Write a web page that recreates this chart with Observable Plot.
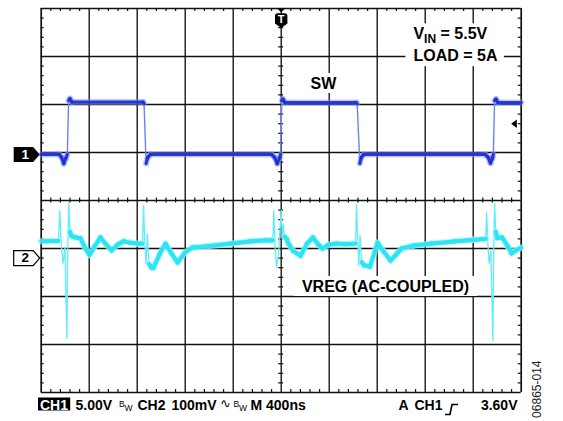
<!DOCTYPE html>
<html><head><meta charset="utf-8">
<script src="https://cdn.jsdelivr.net/npm/d3@7"></script>
<script src="https://cdn.jsdelivr.net/npm/@observablehq/plot@0.6"></script>
<style>
html,body{margin:0;padding:0;background:#fff;}
#chart{width:563px;height:421px;}
</style></head><body><div id="chart"></div>
<script>
// ---------- data ----------
// time in ns relative to trigger, 400 ns/div
const ch1Time = [-2000,-1850,-1830,-1812,-1795,-1782,-1772,-1760,-1745,-1152,-1143,-1126,-1112,-1090,-80,-55,-33,-15,-5,5,15,30,625,633,655,668,688,1700,1725,1744,1760,1768,1778,1790,1805,2000];
// SW node voltage in V, 5 V/div
const ch1Volt = [0,0,-0.3,-0.95,-0.4,0,5.6,5.8,5.45,5.45,5.3,-0.95,-0.3,0,0,-0.3,-0.95,-0.4,0,5.6,5.75,5.4,5.4,5.3,-0.95,-0.3,0,0,-0.3,-0.9,-0.4,0,5.6,5.75,5.4,5.4];
// VREG AC-coupled ripple in mV, 100 mV/div
const ch2Time = [-2000,-1856,-1845,-1834,-1818,-1802,-1786,-1778,-1770,-1760,-1748,-1714,-1673,-1631,-1597,-1556,-1506,-1464,-1414,-1364,-1314,-1256,-1189,-1156,-1147,-1138,-1126,-1115,-1102,-1080,-1064,-1010,-964,-915,-864,-800,-739,-600,-423,-256,-131,-81,-70,-62,-52,-39,-22,0,8,16,28,45,61,100,161,215,265,310,345,395,460,540,620,628,637,647,657,670,690,740,803,850,911,960,1003,1100,1250,1450,1600,1704,1712,1722,1733,1748,1764,1772,1778,1788,1800,1840,1885,1920,1955,2000];
const ch2mV = [35,36,99,32,-11,22,-167,30,114,55,46,43,41,20,7,24,43,30,16,28,35,32,30,30,110,40,-11,50,-12,-20,-20,10,30,10,-9,12,22,25,30,35,37,37,37,99,30,-20,10,100,40,70,45,40,30,15,5,30,43,28,20,28,30,29,30,112,40,-16,48,-8,-15,-18,32,15,-5,8,20,26,30,35,38,40,95,30,-11,15,-172,30,114,55,42,43,26,10,16,22];

const nsPerDiv = 400, ch1VoltsPerDiv = 5, ch2mVPerDiv = 100;
const ch1OffsetDiv = 0.96, ch2OffsetDiv = -1.2, trigMarkerDiv = 1.6;
const timeDomain = [-2000, 2000], divDomain = [-4, 4];

const labelSW = "SW";
const labelVin = "VIN = 5.5V";
const labelLoad = "LOAD = 5A";
const labelVreg = "VREG (AC-COUPLED)";
const ch1Marker = "1", ch2Marker = "2", trigMarker = "T";
const bottomTexts = ["CH1","5.00V","CH2","100mV","M 400ns","A","CH1","3.60V"];
const bwText = ["B","W"];
const acText = "\u223F";
const figId = "06865-014";

// ---------- derived ----------
const ch1 = ch1Time.map((t,i)=>({t, v: ch1OffsetDiv + ch1Volt[i]/ch1VoltsPerDiv, raw: ch1Volt[i]}));
const ch2 = ch2Time.map((t,i)=>({t, v: ch2OffsetDiv + ch2mV[i]/ch2mVPerDiv, raw: ch2mV[i]}));
const ch1Thick = d3.pairs(ch1).filter(([a,b]) => Math.abs(b.raw-a.raw) < 2);
const ch2Thick = d3.pairs(ch2).filter(([a,b]) => Math.abs(b.raw-a.raw)/(b.t-a.t) < 1.6);

const pxPerDiv = 48;
const nsPerPx = nsPerDiv/pxPerDiv, divPerPx = 1/pxPerDiv;
const majorX = d3.range(timeDomain[0], timeDomain[1]+1, nsPerDiv);
const majorY = d3.range(divDomain[0], divDomain[1]+1, 1);
const minorX = d3.range(timeDomain[0], timeDomain[1]+1, nsPerDiv/5).filter(v => v % nsPerDiv !== 0);
const minorY = d3.range(-20, 21).filter(k => k % 5 !== 0).map(k => k/5);

// custom symbols
const pentRight = {draw(c){c.moveTo(-13.5,-7.5);c.lineTo(6,-7.5);c.lineTo(12.5,0);c.lineTo(6,7.5);c.lineTo(-13.5,7.5);c.closePath();}};
const shieldT = {draw(c){
  c.moveTo(-6.2,-4);c.quadraticCurveTo(-6.2,-6.8,-3.4,-6.8);c.lineTo(3.4,-6.8);c.quadraticCurveTo(6.2,-6.8,6.2,-4);
  c.lineTo(6.2,3.5);c.lineTo(0,8);c.lineTo(-6.2,3.5);c.closePath();
  c.moveTo(-3.6,-11.2);c.lineTo(3.6,-11.2);c.lineTo(0,-7.6);c.closePath();
}};
const triLeft = {draw(c){c.moveTo(-3,0);c.lineTo(2.6,-4.2);c.lineTo(2.6,4.2);c.closePath();}};
const riseEdge = {draw(c){c.moveTo(-6.5,5);c.lineTo(-1.5,5);c.lineTo(0.5,-5);c.lineTo(6.5,-5);}};

const FONT = "Arial, 'Liberation Sans', Helvetica, sans-serif";
const one = [0];
const K = v => () => v;
const L = 40.7; // left frame edge in px
const CAPY = 17; // status line offset below frame

function cap(txt, dx, opts={}) {
  return Plot.text([txt], {frameAnchor:"bottom-left", text:d=>d, dx, dy: CAPY + (opts.dy ?? 0),
    textAnchor: opts.anchor ?? "start", fontSize: opts.size ?? 14, fontWeight: opts.weight ?? "bold",
    fill: opts.fill ?? "#000", fontFamily: opts.family ?? FONT});
}

const plot = Plot.plot({
  width: 563, height: 421,
  marginLeft: 40.7, marginRight: 42.3, marginTop: 8, marginBottom: 29,
  x: {domain: timeDomain, axis: null},
  y: {domain: divDomain, axis: null},
  style: {background: "#fff", fontFamily: FONT, overflow: "visible"},
  marks: [
    // graticule
    Plot.ruleX(majorX, {stroke: "#111", strokeWidth: d => (d===timeDomain[0]||d===timeDomain[1]) ? 1.7 : 1.35}),
    Plot.ruleY(majorY, {stroke: "#111", strokeWidth: d => (d===divDomain[0]||d===divDomain[1]) ? 1.7 : 1.35}),
    Plot.ruleX(minorX, {y1: divDomain[1], y2: divDomain[1]-3*divPerPx, stroke:"#111", strokeWidth:1.2}),
    Plot.ruleX(minorX, {y1: divDomain[0], y2: divDomain[0]+3*divPerPx, stroke:"#111", strokeWidth:1.2}),
    Plot.ruleX(minorX, {y1: -2.5*divPerPx, y2: 2.5*divPerPx, stroke:"#111", strokeWidth:1.2}),
    Plot.ruleY(minorY, {x1: timeDomain[0], x2: timeDomain[0]+3*nsPerPx, stroke:"#111", strokeWidth:1.2}),
    Plot.ruleY(minorY, {x1: timeDomain[1], x2: timeDomain[1]-3*nsPerPx, stroke:"#111", strokeWidth:1.2}),
    Plot.ruleY(minorY, {x1: -2.5*nsPerPx, x2: 2.5*nsPerPx, stroke:"#111", strokeWidth:1.2}),
    // CH2 (cyan)
    Plot.line(ch2, {x:"t", y:"v", stroke:"#5eeefa", strokeWidth:1.3}),
    Plot.link(ch2Thick, {x1:d=>d[0].t, y1:d=>d[0].v, x2:d=>d[1].t, y2:d=>d[1].v, stroke:"#9ef5fc", strokeWidth:6.5, strokeLinecap:"round", strokeOpacity:0.6}),
    Plot.link(ch2Thick, {x1:d=>d[0].t, y1:d=>d[0].v, x2:d=>d[1].t, y2:d=>d[1].v, stroke:"#2ee4f4", strokeWidth:4.2, strokeLinecap:"round"}),
    // CH1 (blue)
    Plot.line(ch1, {x:"t", y:"v", stroke:"#6f80f2", strokeWidth:1.4}),
    Plot.link(ch1Thick, {x1:d=>d[0].t, y1:d=>d[0].v, x2:d=>d[1].t, y2:d=>d[1].v, stroke:"#8796f5", strokeWidth:6, strokeLinecap:"round", strokeOpacity:0.5}),
    Plot.link(ch1Thick, {x1:d=>d[0].t, y1:d=>d[0].v, x2:d=>d[1].t, y2:d=>d[1].v, stroke:"#1d2fd2", strokeWidth:3.2, strokeLinecap:"round", strokeOpacity:0.92}),
    // markers
    Plot.dot(one, {x:K(timeDomain[0]), y:K(ch1OffsetDiv), dx:-14, symbol:pentRight, fill:"#000", stroke:"none"}),
    Plot.text([ch1Marker], {x:K(timeDomain[0]), y:K(ch1OffsetDiv), dx:-16, text:d=>d, fill:"#fff", fontSize:13.5, fontWeight:"bold"}),
    Plot.dot(one, {x:K(timeDomain[0]), y:K(ch2OffsetDiv), dx:-14, symbol:pentRight, fill:"#fff", stroke:"#000", strokeWidth:1.2}),
    Plot.text([ch2Marker], {x:K(timeDomain[0]), y:K(ch2OffsetDiv), dx:-16, text:d=>d, fill:"#000", fontSize:13.5, fontWeight:"bold"}),
    Plot.dot(one, {x:K(0), y:K(divDomain[1]), dy:11.5, symbol:shieldT, fill:"#000", stroke:"none"}),
    Plot.text([trigMarker], {x:K(0), y:K(divDomain[1]), dy:11, text:d=>d, fill:"#fff", fontSize:11, fontWeight:"bold"}),
    Plot.dot(one, {x:K(timeDomain[1]), y:K(trigMarkerDiv), dx:-7, symbol:triLeft, fill:"#000", stroke:"none"}),
    // annotations
    Plot.text([labelSW], {x:K(352), y:K(2.43), text:d=>d, fontSize:16, fontWeight:"bold", fill:"#000"}),
    Plot.text([labelVin], {x:K(1102), y:K(3.465), text:d=>d, textAnchor:"start", fontSize:16, fontWeight:"bold", fill:"#000"}),
    Plot.text([labelLoad], {x:K(1102), y:K(3.01), text:d=>d, textAnchor:"start", fontSize:16, fontWeight:"bold", fill:"#000"}),
    Plot.text([labelVreg], {x:K(869), y:K(-1.8), text:d=>d, fontSize:16, fontWeight:"bold", fill:"#000"}),
    // bottom status line
    cap(bottomTexts[0], 39.5 - L, {fill:"#fff"}),
    cap(bottomTexts[1], 75 - L),
    cap(bwText[0], 118.5 - L, {size:8.5, weight:"normal", dy:-3}),
    cap(bwText[1], 124 - L, {size:8.5, weight:"normal", dy:1}),
    cap(bottomTexts[2], 137 - L),
    cap(bottomTexts[3], 171 - L),
    cap(acText, 219.5 - L, {size:13, weight:"normal", family:"'DejaVu Sans', sans-serif", dy:-2}),
    cap(bwText[0], 233 - L, {size:8.5, weight:"normal", dy:-3}),
    cap(bwText[1], 238.5 - L, {size:8.5, weight:"normal", dy:1}),
    cap(bottomTexts[4], 250 - L),
    cap(bottomTexts[5], 398 - L),
    cap(bottomTexts[6], 414 - L),
    Plot.dot(one, {frameAnchor:"bottom-left", dx:451 - L, dy:CAPY, symbol:riseEdge, fill:"none", stroke:"#000", strokeWidth:1.6}),
    cap(bottomTexts[7], 517 - L, {anchor:"end"}),
    Plot.text([figId], {frameAnchor:"bottom-right", text:d=>d, dx:19.5, dy:-32, rotate:-90, fontSize:12, fill:"#222"})
  ]
});
document.getElementById("chart").appendChild(plot);

// ---------- post-processing: subscript, label boxes ----------
const texts = Array.from(plot.querySelectorAll("text"));
const find = s => texts.find(t => t.textContent === s);
const ns = "http://www.w3.org/2000/svg";
const vin = find(labelVin);
if (vin) {
  vin.textContent = "";
  const a = document.createElementNS(ns,"tspan"); a.textContent = "V";
  const b = document.createElementNS(ns,"tspan"); b.textContent = "IN"; b.setAttribute("font-size","12"); b.setAttribute("dy","4");
  const c = document.createElementNS(ns,"tspan"); c.textContent = " = 5.5V"; c.setAttribute("dy","-4");
  vin.append(a,b,c);
}
const svgRect = plot.getBoundingClientRect();
function box(els, padL, padR, padT, padB, fill) {
  els = els.filter(Boolean);
  if (!els.length) return;
  let x0=Infinity,y0=Infinity,x1=-Infinity,y1=-Infinity;
  for (const e of els) { const r = e.getBoundingClientRect(); x0=Math.min(x0,r.left); y0=Math.min(y0,r.top); x1=Math.max(x1,r.right); y1=Math.max(y1,r.bottom); }
  const rect = document.createElementNS(ns,"rect");
  rect.setAttribute("x", x0 - svgRect.left - padL); rect.setAttribute("y", y0 - svgRect.top - padT);
  rect.setAttribute("width", x1 - x0 + padL + padR); rect.setAttribute("height", y1 - y0 + padT + padB);
  rect.setAttribute("fill", fill);
  const g = els[0].closest("g");
  g.parentNode.insertBefore(rect, g);
}
box([find(labelSW)], 5, 5, 2, 1, "#fff");
box([vin, find(labelLoad)], 8, 6, 2, 2, "#fff");
box([find(labelVreg)], 8, 8, 2, 1, "#fff");
const chBox = texts.filter(t => t.textContent === bottomTexts[0]).find(t => t.getAttribute("fill") === "#fff" || (t.closest("g") && t.closest("g").getAttribute("fill") === "#fff"));
box([chBox], 2, 2, -1, -2, "#000");
</script></body></html>
